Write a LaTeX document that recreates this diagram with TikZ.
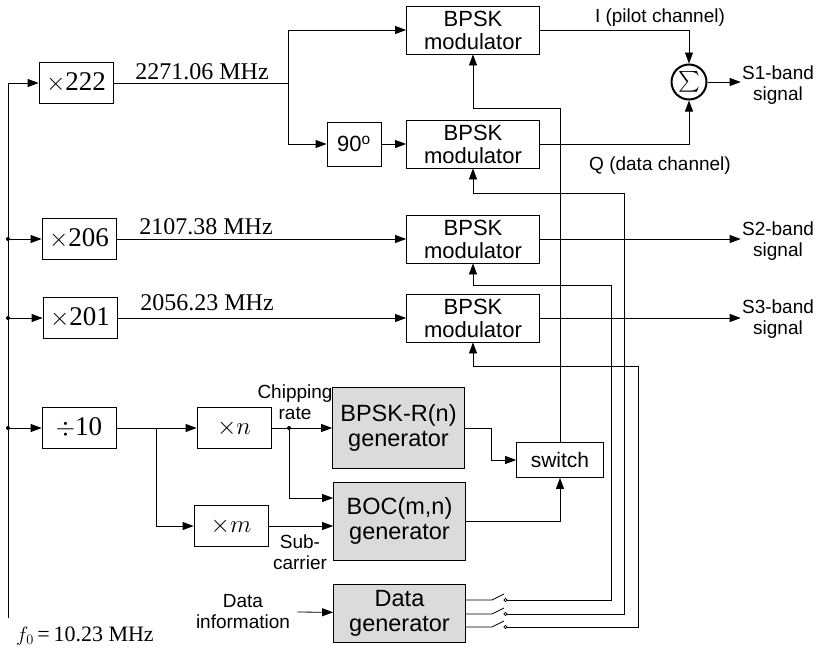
\documentclass[tikz,border=0pt]{standalone}
\usepackage{amsmath}
\usepackage{fontspec}
\setmainfont{Liberation Sans}
\newfontfamily\tnr{Liberation Serif}
\usetikzlibrary{arrows.meta}

\begin{document}
\begin{tikzpicture}[x=1pt, y=-1pt, line width=0.8pt, >={Triangle[length=11pt,width=8pt]}]
    \useasboundingbox (0,0) rectangle (819,648);

    % Stijlen
    \tikzset{
        blok/.style={draw, fill=white, inner sep=0pt, align=center, font=\fontsize{21}{23}\selectfont},
        modu/.style={blok, minimum width=133pt, minimum height=48pt, font=\fontsize{22}{23}\selectfont},
        gen/.style={blok, fill=black!14, minimum width=132pt, font=\fontsize{23.5}{25}\selectfont},
        mul/.style={blok, minimum width=74pt, minimum height=41pt, font=\fontsize{27}{29}\selectfont\tnr},
        lbl/.style={align=center, inner sep=1pt, font=\fontsize{19}{21}\selectfont},
        freq/.style={inner sep=1pt, font=\fontsize{24}{26}\selectfont\tnr},
        punt/.style={circle, fill, inner sep=0pt, minimum size=4pt}
    }

    % Vermenigvuldigers
    \node[mul] (m222) at (76,83) {$\times$222};
    \node[mul] (m206) at (79,239) {$\times$206};
    \node[mul] (m201) at (80,318) {$\times$201};
    \node[mul] (d10) at (79,428) {$\div$10};
    \node[mul] (mn) at (234,428) {$\times n$};
    \node[mul] (mm) at (231,526) {$\times m$};
    \node[blok, minimum width=54pt, minimum height=44pt, font=\fontsize{22}{23}\selectfont] (fase) at (354,144) {90\textsuperscript{o}};

    % Modulatoren
    \node[modu] (bp1) at (473,30) {BPSK\\modulator};
    \node[modu] (bp2) at (473,144) {BPSK\\modulator};
    \node[modu] (bp3) at (473,239) {BPSK\\modulator};
    \node[modu] (bp4) at (473,318) {BPSK\\modulator};
    \node[circle, draw, line width=2pt, minimum size=35pt, inner sep=0pt, font=\fontsize{20}{20}\selectfont] (som) at (689,82) {$\sum$};

    % Generatoren
    \node[gen, minimum height=81pt] (gr) at (398.5,428) {BPSK-R(n)\\generator};
    \node[gen, minimum height=78pt] (gb) at (399.5,521) {BOC(m,n)\\generator};
    \node[gen, minimum height=58pt] (gd) at (399.5,613) {Data\\generator};
    \node[blok, minimum width=87pt, minimum height=35pt] (sw) at (560,460) {switch};

    % Labels
    \node[freq] (f1) at (202,72) {2271.06 MHz};
    \node[freq] (f2) at (206,227) {2107.38 MHz};
    \node[freq] (f3) at (207,303) {2056.23 MHz};
    \node[freq, font=\fontsize{22}{24}\selectfont\tnr] (f0) at (85,636) {$f_0$\,=\,10.23 MHz};
    \node[lbl] (ich) at (660,18) {I (pilot channel)};
    \node[lbl] (qch) at (660,166) {Q (data channel)};
    \node[lbl] (s1) at (778,85) {S1-band\\signal};
    \node[lbl] (s2) at (778,241) {S2-band\\signal};
    \node[lbl] (s3) at (778,319) {S3-band\\signal};
    \node[lbl] (chip) at (295,402) {Chipping\\rate};
    \node[lbl] (sub) at (300,552) {Sub-\\carrier};
    \node[lbl] (info) at (243,612) {Data\\information};

    % Knooppunten
    \coordinate (bron) at (8,618);
    \node[punt] (j1) at (8,239) {};
    \node[punt] (j2) at (8,318) {};
    \node[punt] (j3) at (8,428) {};
    \node[punt] (j4) at (289,428) {};

    % Klokverdeling
    \draw[->] (bron) |- (m222);
    \draw[->] (j1) -- (m206);
    \draw[->] (j2) -- (m201);
    \draw[->] (j3) -- (d10);

    % S1-band
    \draw (m222) -- (288,83) coordinate (tak);
    \draw[->] (tak) |- (bp1);
    \draw[->] (tak) |- (fase);
    \draw[->] (fase) -- (bp2);
    \draw[->] (bp1) -| (som);
    \draw[->] (bp2) -| (som);
    \draw[->] (som) -- (som -| s1.west);

    % S2- en S3-band
    \draw[->] (m206) -- (bp3);
    \draw[->] (m201) -- (bp4);
    \draw[->] (bp3) -- (bp3 -| s2.west);
    \draw[->] (bp4) -- (bp4 -| s3.west);

    % Codegeneratie
    \draw (d10) -- (156,428) coordinate (tak2);
    \draw[->] (tak2) -- (mn);
    \draw[->] (tak2) |- (mm);
    \draw[->] (mn) -- (gr);
    \draw[->] (j4) |- ([yshift=23pt]gb.west);
    \draw[->] (mm) -- (mm -| gb.west);
    \draw[->] ([xshift=6pt]info.east) -- (gd);
    \draw[->] (gr.east) -- ++(26,0) |- (sw);
    \draw[->] (gb) -| (sw);
    \draw[->] (sw) -- ++(0,-352) -| (bp1);

    % Data schakelaars
    \foreach \dy/\xx/\yy/\ty/\doel in {13/611/600/285/bp3, -1/624/614/193/bp2, -14/638/627/366/bp4} {
        \draw ([yshift=\dy pt]gd.east) -- (492,\yy) -- (504,{\yy-6});
        \draw (505.5,\yy) circle (1.6pt);
        \draw[->] (507,\yy) -- (\xx,\yy) -- (\xx,\ty) -| (\doel);
    }
\end{tikzpicture}
\end{document}
